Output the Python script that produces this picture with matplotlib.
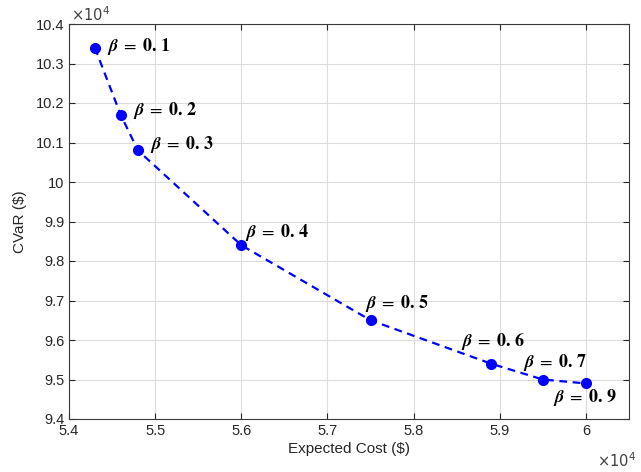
import matplotlib.pyplot as plt
from matplotlib.ticker import FuncFormatter

expected_cost = [54300, 54600, 54800, 56000, 57500, 58900, 59500, 60000]
cvar = [103400, 101700, 100800, 98400, 96500, 95400, 95000, 94900]
betas = ["0.1", "0.2", "0.3", "0.4", "0.5", "0.6", "0.7", "0.9"]
# label offsets in points
offsets = [(9, 1), (9, 3), (9, 4), (3, 9), (-4, 12), (-22, 16), (-14, 12), (-24, -10)]

plt.rcParams["font.family"] = ["Liberation Sans", "DejaVu Sans"]
plt.rcParams["mathtext.fontset"] = "stix"

fig = plt.figure(figsize=(6.41, 4.72), dpi=100)
ax = fig.add_axes([69 / 641, 53 / 472, 560 / 641, 395 / 472])

ax.plot(expected_cost, cvar, "--", color="blue", lw=1.6, dashes=(3.5, 2.5))
ax.plot(expected_cost, cvar, "o", color="blue", ms=7)

for x, y, b, (dx, dy) in zip(expected_cost, cvar, betas, offsets):
    ax.annotate(r"$\boldsymbol{\beta}\;=\;\mathbf{" + b.replace(".", ".\,") + "}$", (x, y),
                xytext=(dx, dy), textcoords="offset points",
                ha="left", va="center", fontsize=13, color="black")

ax.set_xlim(54000, 60500)
ax.set_ylim(94000, 104000)
ax.set_xticks([54000 + 1000 * i for i in range(7)])
ax.set_yticks([94000 + 1000 * i for i in range(11)])
fmt = FuncFormatter(lambda v, p: "%g" % round(v / 1e4, 2))
ax.xaxis.set_major_formatter(fmt)
ax.yaxis.set_major_formatter(fmt)

ax.grid(True, color="#dcdcdc", lw=0.8)
ax.set_axisbelow(True)
ax.tick_params(direction="in", top=True, right=True, colors="#262626",
               labelsize=10.5, length=4, width=0.8)
for s in ax.spines.values():
    s.set_color("#3a3a3a")
    s.set_linewidth(0.8)

ax.set_xlabel("Expected Cost ($)", fontsize=11, color="#262626", labelpad=3)
ax.set_ylabel("CVaR ($)", fontsize=11, color="#262626", labelpad=6)

fig.text(71 / 641, 1 - 15 / 472, r"$\times10^4$", fontsize=10.5, color="#404040",
         va="center", ha="left", math_fontfamily="dejavusans")
fig.text(597 / 641, 1 - 461 / 472, r"$\times10^4$", fontsize=10.5, color="#404040",
         va="center", ha="left", math_fontfamily="dejavusans")

fig.savefig("out.png", dpi=100)
